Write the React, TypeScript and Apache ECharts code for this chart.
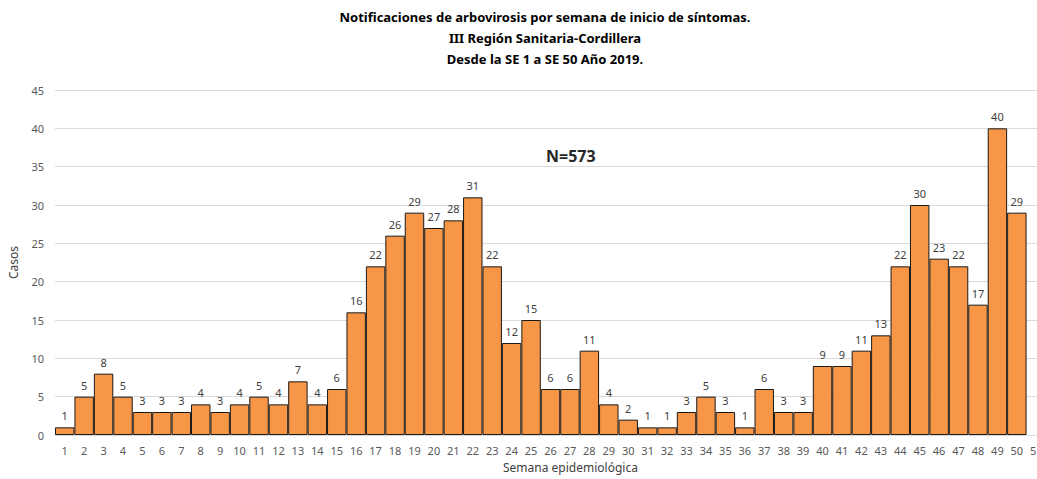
import React, { useEffect, useRef } from "react";
import * as echarts from "echarts";

const weeks: string[] = Array.from({ length: 51 }, (_, i) => String(i + 1));
const casos: number[] = [
  1, 5, 8, 5, 3, 3, 3, 4, 3, 4, 5, 4, 7, 4, 6, 16, 22, 26, 29, 27, 28, 31, 22, 12, 15,
  6, 6, 11, 4, 2, 1, 1, 3, 5, 3, 1, 6, 3, 3, 9, 9, 11, 13, 22, 30, 23, 22, 17, 40, 29,
];
const titleLines: string[] = [
  "Notificaciones de arbovirosis por semana de inicio de síntomas.",
  "III Región Sanitaria-Cordillera",
  "Desde la SE 1 a SE 50 Año 2019.",
];
const totalText = "N=573";
const yName = "Casos";
const xName = "Semana epidemiológica";

const FONT = "'Noto Sans', 'Open Sans', sans-serif";

export default function App() {
  const ref = useRef<HTMLDivElement>(null);
  useEffect(() => {
    if (!ref.current) return;
    const chart = echarts.init(ref.current, undefined, { renderer: "svg" });
    chart.setOption({
      animation: false,
      backgroundColor: "#ffffff",
      textStyle: { fontFamily: FONT },
      title: {
        text: titleLines.join("\n"),
        left: 540,
        textAlign: "center",
        top: 1,
        textStyle: {
          fontFamily: FONT,
          fontSize: 13,
          fontWeight: "bold",
          color: "#000000",
          lineHeight: 21,
        },
      },
      graphic: [
        {
          type: "text",
          left: 546,
          top: 148,
          style: {
            text: totalText,
            fontFamily: FONT,
            fontSize: 16,
            fontWeight: "bold",
            fill: "#262626",
          },
        },
        {
          type: "text",
          left: 503,
          top: 461,
          style: {
            text: xName,
            fontFamily: FONT,
            fontSize: 12,
            fill: "#404040",
          },
        },
      ],
      grid: {
        left: 55,
        width: 991,
        top: 90,
        bottom: 44,
        containLabel: false,
        outerBoundsMode: "none",
      },
      xAxis: {
        type: "category",
        data: weeks,
        axisLine: { show: true, lineStyle: { color: "#d9d9d9", width: 1 } },
        axisTick: { show: false },
        axisLabel: { color: "#595959", fontSize: 11, fontFamily: FONT, interval: 0, margin: 10 },
        splitLine: { show: false },
      },
      yAxis: {
        type: "value",
        min: 0,
        max: 45,
        interval: 5,
        name: yName,
        nameLocation: "middle",
        nameGap: 36,
        nameTextStyle: { color: "#404040", fontSize: 12, fontFamily: FONT },
        axisLine: { show: false },
        axisTick: { show: false },
        axisLabel: { color: "#595959", fontSize: 11, fontFamily: FONT, margin: 11 },
        splitLine: { show: true, lineStyle: { color: "#d9d9d9", width: 1 } },
      },
      series: [
        {
          type: "bar",
          data: casos,
          barWidth: "100%",
          barCategoryGap: "0%",
          itemStyle: { color: "#F79646", borderColor: "#1a1a1a", borderWidth: 1 },
          label: {
            show: true,
            position: "top",
            distance: 6,
            color: "#404040",
            fontSize: 11,
            fontFamily: FONT,
          },
        },
      ],
    });
    return () => chart.dispose();
  }, []);
  return (
    <div
      ref={ref}
      style={{ position: "fixed", left: 0, top: 0, width: 1037, height: 479 }}
    />
  );
}
